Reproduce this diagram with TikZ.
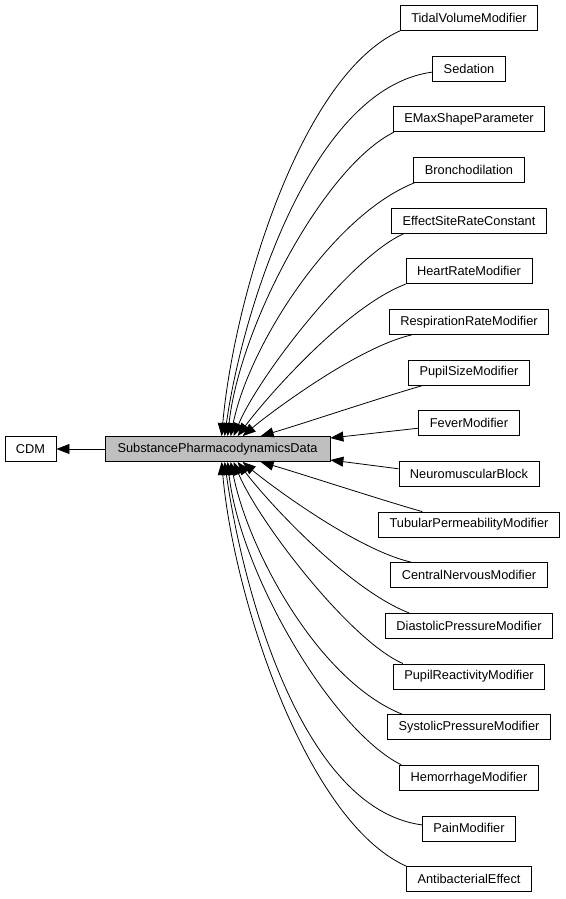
\documentclass[tikz,border=0pt]{standalone}
\usepackage{fontspec}
\setmainfont{Liberation Sans}
\usetikzlibrary{arrows.meta}
\definecolor{mainfill}{RGB}{191,191,191}
\begin{document}
\begin{tikzpicture}[x=1pt, y=-1pt,
  cls/.style={draw, line width=0.8pt, minimum height=25pt, inner xsep=11pt, inner ysep=0pt, font=\fontsize{12.8}{14}\selectfont},
  inherit/.style={-{Triangle[length=13pt,width=10pt]}, line width=0.8pt}]
\useasboundingbox (0,0) rectangle (565,899);
\node[cls] (cdm) at (30.5,449){CDM};
\node[cls, fill=mainfill, inner xsep=12.5pt] (main) at (217.5,449){SubstancePharmacodynamicsData};
\draw[inherit](main) -- (cdm);
% upper half
\node[cls] (tidal) at (469,18){TidalVolumeModifier};
\node[cls] (sedation) at (469,68.6){Sedation};
\node[cls] (emax) at (469,119.3){EMaxShapeParameter};
\node[cls] (broncho) at (469,169.9){Bronchodilation};
\node[cls] (effectsite) at (469,220.6){EffectSiteRateConstant};
\node[cls] (heartrate) at (469,271.2){HeartRateModifier};
\node[cls] (resprate) at (469,321.9){RespirationRateModifier};
\node[cls] (pupilsize) at (469,372.5){PupilSizeModifier};
\node[cls] (fever) at (469,423.2){FeverModifier};
\draw[inherit](tidal.south west) .. controls +(-100,45) and +(12,-136) .. ([xshift=117pt]main.north west);
\draw[inherit]([yshift=-3.5pt]sedation.west) .. controls +(-122,16) and +(17,-122) .. ([xshift=120pt]main.north west);
\draw[inherit]([xshift=1pt]emax.south west) .. controls +(-70,35) and +(12,-110) .. ([xshift=123pt]main.north west);
\draw[inherit]([xshift=1pt]broncho.south west) .. controls +(-83,33) and +(18,-90) .. ([xshift=126pt]main.north west);
\draw[inherit]([xshift=13pt]effectsite.south west) .. controls +(-53,23) and +(25,-60) .. ([xshift=129pt]main.north west);
\draw[inherit](heartrate.south west) .. controls +(-60,23) and +(30,-40) .. ([xshift=133pt]main.north west);
\draw[inherit]([xshift=23pt]resprate.south west) .. controls +(-57,13) and +(21,-18) .. ([xshift=138pt]main.north west);
\draw[inherit]([xshift=15pt]pupilsize.south west) .. controls +(-42,12) and +(41,-12) .. ([xshift=156pt]main.north west);
\draw[inherit]([yshift=-5pt]fever.west) -- ([yshift=11pt]main.east);
% lower half
\node[cls] (neuro) at (469,473.8){NeuromuscularBlock};
\node[cls] (tubular) at (469,524.5){TubularPermeabilityModifier};
\node[cls] (central) at (469,575.1){CentralNervousModifier};
\node[cls] (diastolic) at (469,625.8){DiastolicPressureModifier};
\node[cls] (pupilreact) at (469,676.4){PupilReactivityModifier};
\node[cls] (systolic) at (469,727.1){SystolicPressureModifier};
\node[cls] (hemorrhage) at (469,777.7){HemorrhageModifier};
\node[cls] (pain) at (469,828.4){PainModifier};
\node[cls] (antibact) at (469,879){AntibacterialEffect};
\draw[inherit]([yshift=5pt]neuro.west) -- ([yshift=-11pt]main.east);
\draw[inherit]([xshift=44pt]tubular.north west) .. controls +(-42,-12) and +(41,12) .. ([xshift=156pt]main.south west);
\draw[inherit]([xshift=21pt]central.north west) .. controls +(-57,-13) and +(21,18) .. ([xshift=138pt]main.south west);
\draw[inherit]([xshift=24pt]diastolic.north west) .. controls +(-60,-23) and +(30,40) .. ([xshift=133pt]main.south west);
\draw[inherit]([xshift=10pt]pupilreact.north west) .. controls +(-53,-23) and +(25,60) .. ([xshift=129pt]main.south west);
\draw[inherit]([xshift=15pt]systolic.north west) .. controls +(-83,-33) and +(18,90) .. ([xshift=126pt]main.south west);
\draw[inherit]([xshift=2pt]hemorrhage.north west) .. controls +(-70,-35) and +(12,110) .. ([xshift=123pt]main.south west);
\draw[inherit]([yshift=3.5pt]pain.west) .. controls +(-122,-16) and +(17,122) .. ([xshift=120pt]main.south west);
\draw[inherit](antibact.north west) .. controls +(-100,-45) and +(12,136) .. ([xshift=117pt]main.south west);
\end{tikzpicture}
\end{document}
